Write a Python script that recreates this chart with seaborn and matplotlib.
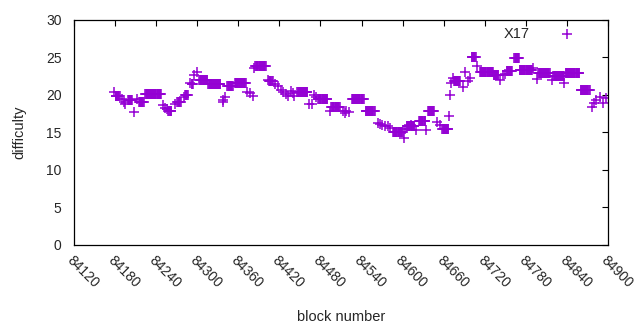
import numpy as np
import pandas as pd
import seaborn as sns
import matplotlib.pyplot as plt

# runs of consecutive blocks with the same difficulty
run_start = [84181, 84199, 84215, 84224, 84258, 84271, 84282, 84292, 84303, 84316,
             84344, 84355, 84385, 84405, 84446, 84477, 84496, 84526, 84546, 84586,
             84606, 84624, 84637, 84658, 84675, 84701, 84713, 84733, 84752, 84763,
             84771, 84798, 84820, 84838, 84860]
run_end = [84187, 84205, 84222, 84247, 84262, 84276, 84286, 84294, 84315, 84334,
           84352, 84371, 84400, 84410, 84461, 84490, 84508, 84543, 84559, 84600,
           84617, 84633, 84646, 84667, 84684, 84707, 84732, 84740, 84760, 84770,
           84789, 84815, 84836, 84858, 84873]
run_diff = [19.8, 19.3, 19.0, 20.1, 17.8, 19.1, 20.0, 21.5, 22.0, 21.4,
            21.2, 21.6, 23.8, 21.9, 20.4, 19.4, 18.4, 19.4, 17.9, 15.0,
            15.8, 16.5, 17.9, 15.5, 21.9, 25.0, 23.0, 22.7, 23.2, 24.9,
            23.3, 22.9, 22.5, 22.9, 20.6]

# isolated blocks
single_block = [84178, 84182, 84190, 84193, 84195, 84208, 84212, 84250, 84253, 84256,
                84268, 84280, 84290, 84296, 84299, 84337, 84338, 84340, 84373, 84377,
                84381, 84383, 84404, 84414, 84418, 84422, 84426, 84430, 84433, 84437,
                84440, 84442, 84464, 84467, 84471, 84474, 84494, 84513, 84516, 84518,
                84521, 84564, 84567, 84570, 84574, 84579, 84582, 84602, 84604, 84612,
                84620, 84634, 84650, 84654, 84668, 84669, 84670, 84674, 84688, 84691,
                84696, 84699, 84709, 84742, 84747, 84750, 84791, 84796, 84818, 84836,
                84876, 84880, 84883, 84888, 84893, 84897]
single_diff = [20.4, 19.9, 19.5, 19.0, 18.8, 17.7, 19.5, 18.6, 18.3, 18.1,
               18.8, 19.7, 21.6, 22.6, 23.1, 19.1, 19.3, 19.7, 20.4, 20.2,
               19.8, 23.6, 22.0, 21.4, 21.2, 20.7, 20.4, 20.1, 19.9, 20.5,
               20.2, 19.9, 18.8, 18.8, 20.0, 19.7, 17.8, 17.8, 17.6, 17.9,
               17.7, 16.2, 16.1, 16.0, 15.9, 15.8, 15.6, 14.3, 15.4, 16.0,
               15.3, 15.3, 16.4, 16.0, 17.2, 20.0, 21.6, 22.2, 21.1, 23.1,
               21.8, 22.2, 23.9, 22.0, 22.7, 22.8, 23.6, 22.1, 22.0, 21.6,
               18.4, 18.9, 19.3, 19.7, 18.9, 19.6]

x_ticks = list(range(84120, 84901, 60))
y_ticks = [0, 5, 10, 15, 20, 25, 30]

blocks = list(single_block)
diffs = list(single_diff)
for a, b, v in zip(run_start, run_end, run_diff):
    for blk in range(a, b + 1):
        blocks.append(blk)
        diffs.append(v)
df = pd.DataFrame({'block': blocks, 'difficulty': diffs}).sort_values('block')

sns.set_style('white')
plt.rcParams['font.family'] = ['Liberation Sans', 'DejaVu Sans']
plt.rcParams['xtick.direction'] = 'in'
plt.rcParams['ytick.direction'] = 'in'

fig, ax = plt.subplots(figsize=(6.4, 3.3), dpi=100)
fig.subplots_adjust(left=0.1156, right=0.95, top=0.9394, bottom=0.2576)

sns.scatterplot(data=df, x='block', y='difficulty', marker='+', color='#9400d3',
                s=60, linewidth=1.1, label='X17', ax=ax)

ax.set_xlim(84120, 84900)
ax.set_ylim(0, 30)
ax.set_xticks(x_ticks)
ax.set_yticks(y_ticks)
ax.set_xticklabels([str(t) for t in x_ticks], rotation=-45, ha='left', va='top',
                   rotation_mode='anchor', fontsize=10)
ax.set_yticklabels([str(t) for t in y_ticks], fontsize=10)
ax.tick_params(top=True, right=True, length=4, width=0.8, color='black')
ax.tick_params(axis='y', pad=9)
ax.tick_params(axis='x', pad=6)
for sp in ax.spines.values():
    sp.set_color('black')
    sp.set_linewidth(0.9)
ax.set_xlabel('block number', fontsize=10.5, labelpad=14)
ax.set_ylabel('difficulty', fontsize=10.5, labelpad=14)
ax.legend(loc='upper right', bbox_to_anchor=(0.97, 1.015), frameon=False,
          markerfirst=False, fontsize=10.5, handletextpad=1.6, borderaxespad=0.3)

plt.savefig('out.png', dpi=100)
